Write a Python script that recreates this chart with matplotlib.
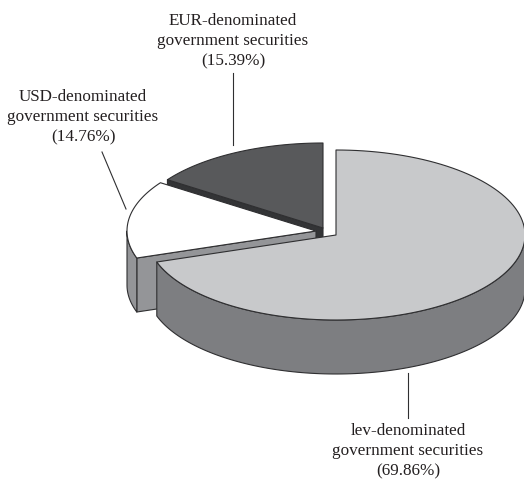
import numpy as np
import matplotlib
matplotlib.use("Agg")
import matplotlib.pyplot as plt
from matplotlib.patches import Polygon

# data
categories = ["lev-denominated\ngovernment securities",
              "USD-denominated\ngovernment securities",
              "EUR-denominated\ngovernment securities"]
shares = [69.86, 14.76, 15.39]

# layout (pixels)
W, H = 524, 479
RX, RY, DEPTH = 189, 85, 54
START = 90.0
centres = [(336, 235), (316, 231), (323, 228)]
top_cols = ["#c8c9cb", "#ffffff", "#58595b"]
rim_cols = ["#7d7e81", "#949598", "#333436"]
wall_cols = ["#7d7e81", "#949598", "#333436"]
wall_side = [None, 0, 0]  # which radial edge of the slice shows a wall
label_xy = [(408, 431), (83, 97), (233, 21)]
leaders = [((408, 373), (408, 418)), ((102, 152), (126, 209)), ((233, 73), (233, 145))]

fig = plt.figure(figsize=(W / 100, H / 100), dpi=100)
ax = fig.add_axes([0, 0, 1, 1])
ax.set_xlim(0, W)
ax.set_ylim(H, 0)
ax.axis("off")

edge = dict(edgecolor="#2f2f31", linewidth=0.8, joinstyle="round")


def pt(c, deg):
    a = np.radians(deg)
    return c[0] + RX * np.cos(a), c[1] - RY * np.sin(a)


def arc(c, a0, a1, n=120):
    a = np.radians(np.linspace(a0, a1, n))
    return np.column_stack([c[0] + RX * np.cos(a), c[1] - RY * np.sin(a)])


# clockwise angular extents from the shares
fracs = np.array(shares) / sum(shares) * 360
ends = START - np.cumsum(fracs)
starts = np.r_[START, ends[:-1]]
# dark slice sits at the back, so paint back to front
for i in [2, 1, 0]:
    c = centres[i]
    a0, a1 = starts[i], ends[i]  # a1 < a0
    z = i * -2 + 10

    if wall_side[i] is not None:
        p = pt(c, (a0, a1)[wall_side[i]])
        ax.add_patch(Polygon([c, p, (p[0], p[1] + DEPTH), (c[0], c[1] + DEPTH)],
                             closed=True, facecolor=wall_cols[i], zorder=z, **edge))

    # outer rim: the part facing the viewer (sin < 0)
    for k in (-360, 0):
        l, h = max(a1 - k, -180) + k, min(a0 - k, 0) + k
        if h > l:
            top = arc(c, l, h)
            bot = top[::-1] + np.array([0, DEPTH])
            ax.add_patch(Polygon(np.vstack([top, bot]), closed=True,
                                 facecolor=rim_cols[i], zorder=z, **edge))

    # top face
    ax.add_patch(Polygon(np.vstack([[c], arc(c, a1, a0)]), closed=True,
                         facecolor=top_cols[i], zorder=z + 1, **edge))

for (xy0, xy1) in leaders:
    ax.plot([xy0[0], xy1[0]], [xy0[1], xy1[1]], color="#2f2f31", lw=0.8, zorder=20)

for name, val, (x, y) in zip(categories, shares, label_xy):
    for j, line in enumerate(name.split("\n") + [f"({val:.2f}%)"]):
        ax.text(x, y + j * 20, line, ha="center", va="center",
                family="Liberation Serif", fontsize=12.3, color="#231f20")

fig.savefig("out.png", dpi=100, facecolor="white")
